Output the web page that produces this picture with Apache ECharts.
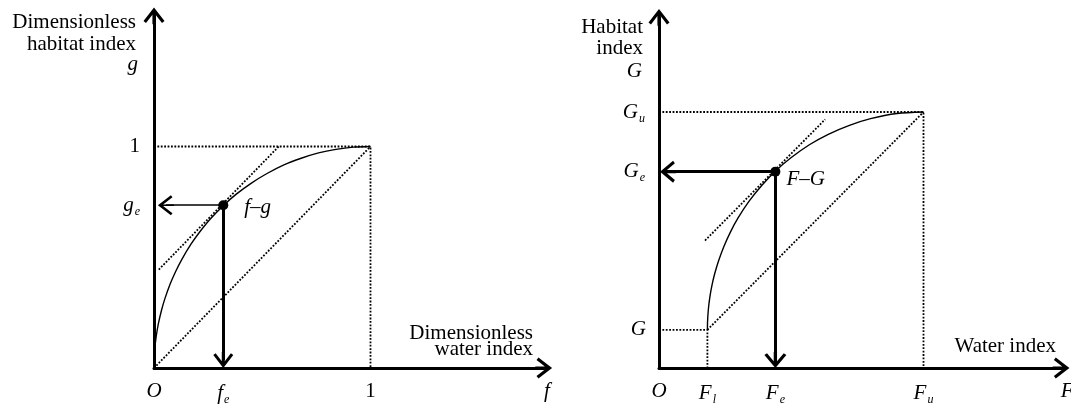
<!DOCTYPE html>
<html>
<head>
<meta charset="utf-8">
<script src="https://cdn.jsdelivr.net/npm/echarts@6/dist/echarts.min.js"></script>
<style>
  html, body { margin: 0; padding: 0; background: #fff; }
  #chart { width: 1071px; height: 405px; }
</style>
</head>
<body>
<div id="chart"></div>
<script>
// ---- left panel: dimensionless f-g curve ----
const fCurve = [0, 0.001, 0.004, 0.01, 0.02, 0.035, 0.05, 0.075, 0.1, 0.13, 0.17, 0.21, 0.26, 0.32, 0.38, 0.45, 0.52, 0.6, 0.68, 0.76, 0.84, 0.92, 1];
const gCurve = [0, 0.045, 0.089, 0.141, 0.199, 0.262, 0.312, 0.38, 0.436, 0.493, 0.558, 0.613, 0.673, 0.733, 0.785, 0.835, 0.877, 0.917, 0.947, 0.971, 0.987, 0.997, 1];
const fE = 0.32, gE = 0.735;
const fMax = 1, gMax = 1;
const fTangent = [0.022, 0.576];
const gTangent = [0.444, 1.0];
const gArrowTip = 0.018;   // where the g_e arrow stops, just right of the axis
const fAxisName = 1.815, gAxisName = 1.37;

// ---- right panel: F-G curve ----
const FCurve = [0.183, 0.1835, 0.185, 0.188, 0.193, 0.2, 0.21, 0.225, 0.245, 0.27, 0.3, 0.34, 0.39, 0.44, 0.5, 0.57, 0.64, 0.72, 0.8, 0.9, 1];
const GCurve = [0.149, 0.179, 0.208, 0.243, 0.282, 0.322, 0.366, 0.418, 0.474, 0.531, 0.588, 0.651, 0.715, 0.769, 0.822, 0.873, 0.913, 0.948, 0.974, 0.994, 1];
const FL = 0.183, GL = 0.149, FU = 1, GU = 1, FE = 0.44, GE = 0.767;
const FTangent = [0.174, 0.628];
const GTangent = [0.498, 0.971];
const GArrowTip = 0.004;
const FAxisName = 1.543, GAxisName = 1.16;

// ---- layout ----
const FONT = 'Liberation Serif';
const panels = [
  { left: 154, originY: 368, ux: 216.5, uy: 221.5, xMax: 1.8, yMax: 1.59 },
  { left: 659, originY: 368, ux: 264.5, uy: 256, xMax: 1.52, yMax: 1.37 }
];
// open chevron with a short stem, tip at the top of a 20 x 16 box
const HEAD = 'path://M10,0L20,13L17.62,14.83L11.5,6.87L11.5,16L8.5,16L8.5,6.87L2.38,14.83L0,13Z';
const HEAD_THIN = 'path://M10,0L20,13L17.94,14.59L10.75,5.24L10.75,16L9.25,16L9.25,5.24L2.06,14.59L0,13Z';
const HEAD_HALF = 8;

const grids = panels.map(p => ({
  left: p.left,
  top: p.originY - p.yMax * p.uy,
  width: p.xMax * p.ux,
  height: p.yMax * p.uy
}));

function axis(i, max) {
  return {
    gridIndex: i, type: 'value', min: 0, max: max,
    axisLine: {
      show: true, onZero: false,
      symbol: ['none', HEAD], symbolSize: [21, 17],
      lineStyle: { color: '#000', width: 3 }
    },
    axisTick: { show: false }, axisLabel: { show: false }, splitLine: { show: false }
  };
}

const zip = (a, b) => a.map((v, k) => [v, b[k]]);

function dotted(i, pts) {
  return {
    type: 'line', xAxisIndex: i, yAxisIndex: i, data: pts, showSymbol: false, silent: true,
    lineStyle: { color: '#000', width: 1.8, type: [1.8, 1.6] }, animation: false, z: 2
  };
}

function curve(i, xs, ys) {
  return {
    type: 'line', xAxisIndex: i, yAxisIndex: i, data: zip(xs, ys), showSymbol: false, silent: true,
    smooth: 0.3,
    lineStyle: { color: '#000', width: 1.4 }, animation: false, z: 3
  };
}

function arrow(i, from, to, width, head, size) {
  return {
    type: 'line', xAxisIndex: i, yAxisIndex: i, data: [], animation: false, z: 4,
    markLine: {
      silent: true, animation: false,
      symbol: ['none', head], symbolSize: size,
      label: { show: false },
      lineStyle: { color: '#000', width: width, type: 'solid' },
      emphasis: { disabled: true },
      data: [[{ coord: from }, { coord: to }]]
    }
  };
}

function point(i, x, y) {
  return {
    type: 'scatter', xAxisIndex: i, yAxisIndex: i, data: [[x, y]], symbolSize: 10,
    itemStyle: { color: '#000', opacity: 1 }, silent: true, animation: false, z: 6
  };
}

const rich = {
  i: { fontFamily: FONT, fontStyle: 'italic', fontSize: 21, color: '#000' },
  n: { fontFamily: FONT, fontSize: 21, color: '#000' },
  s: { fontFamily: FONT, fontStyle: 'italic', fontSize: 12, color: '#000', padding: [13, 0, 0, 1] }
};

function yLab(y, text, dist) {
  return { value: [0, y], label: { position: 'left', distance: dist || 14, formatter: text } };
}
function xLab(x, text) {
  return { value: [x, 0], label: { position: 'bottom', distance: 13, formatter: text } };
}
function sideLab(x, y, text, dist, dy) {
  return { value: [x, y], label: { position: 'right', distance: dist, offset: [0, dy], formatter: text } };
}

function labels(i, items) {
  return {
    type: 'scatter', xAxisIndex: i, yAxisIndex: i, symbolSize: 0, clip: false, silent: true,
    animation: false, z: 7,
    itemStyle: { opacity: 1 },
    label: { show: true, rich: rich, color: '#000', opacity: 1 },
    data: items
  };
}

const pL = panels[0], pR = panels[1];

const series = [
  // left
  dotted(0, [[0, gMax], [fMax, gMax], [fMax, 0]]),
  dotted(0, [[0, 0], [fMax, gMax]]),
  dotted(0, zip(fTangent, gTangent)),
  curve(0, fCurve, gCurve),
  arrow(0, [fE, gE], [fE, HEAD_HALF / pL.uy], 3, HEAD, [20, 16]),
  arrow(0, [fE, gE], [gArrowTip + HEAD_HALF / pL.ux, gE], 1.5, HEAD_THIN, [20, 16]),
  point(0, fE, gE),
  labels(0, [
    yLab(gMax, '{n|1}'),
    yLab(gE, '{i|g}{s|e}'),
    yLab(gAxisName, '{i|g}', 16),
    xLab(0, '{i|O}'),
    xLab(fE, '{i|f}{s|e}'),
    xLab(fMax, '{n|1}'),
    xLab(fAxisName, '{i|f}'),
    sideLab(fE, gE, '{i|f}{n|–}{i|g}', 21, 2)
  ]),
  // right
  dotted(1, [[0, GU], [FU, GU], [FU, 0]]),
  dotted(1, [[0, GL], [FL, GL], [FL, 0]]),
  dotted(1, [[FL, GL], [FU, GU]]),
  dotted(1, zip(FTangent, GTangent)),
  curve(1, FCurve, GCurve),
  arrow(1, [FE, GE], [FE, HEAD_HALF / pR.uy], 3, HEAD, [22, 16]),
  arrow(1, [FE, GE], [GArrowTip + HEAD_HALF / pR.ux, GE], 3, HEAD, [22, 16]),
  point(1, FE, GE),
  labels(1, [
    yLab(GU, '{i|G}{s|u}'),
    yLab(GE, '{i|G}{s|e}'),
    yLab(GL, '{i|G}', 13),
    yLab(GAxisName, '{i|G}', 17),
    xLab(0, '{i|O}'),
    xLab(FL, '{i|F}{s|l}'),
    xLab(FE, '{i|F}{s|e}'),
    xLab(FU, '{i|F}{s|u}'),
    xLab(FAxisName, '{i|F}'),
    sideLab(FE, GE, '{i|F}{n|–}{i|G}', 11, 8)
  ])
];

function title(x, y, text, lineHeight) {
  return {
    type: 'text', x: x, y: y, silent: true,
    style: {
      text: text, align: 'right', verticalAlign: 'top',
      fontFamily: FONT, fontSize: 21, lineHeight: lineHeight, fill: '#000'
    }
  };
}

const chart = echarts.init(document.getElementById('chart'), null, { renderer: 'canvas' });
chart.setOption({
  backgroundColor: '#fff',
  animation: false,
  grid: grids,
  xAxis: [axis(0, pL.xMax), axis(1, pR.xMax)],
  yAxis: [axis(0, pL.yMax), axis(1, pR.yMax)],
  graphic: [
    title(136, 11, 'Dimensionless\nhabitat index', 22),
    title(533, 325, 'Dimensionless\nwater index', 16),
    title(643, 17, 'Habitat\nindex', 21),
    title(1056, 335, 'Water index', 22)
  ],
  series: series
});
</script>
</body>
</html>
